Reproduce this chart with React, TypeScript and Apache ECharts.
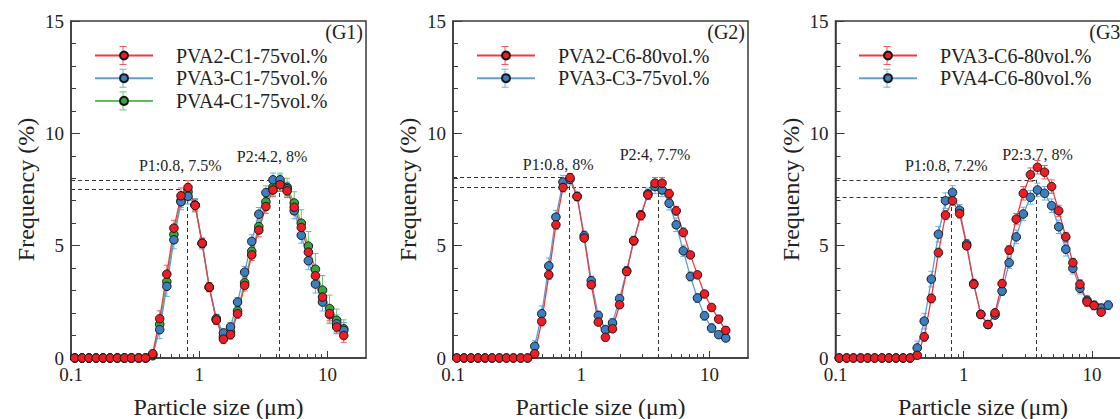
import React, { useEffect, useRef } from 'react';
import * as echarts from 'echarts';

// ---------- data ----------
const sizes = [0.107, 0.122, 0.138, 0.157, 0.178, 0.202, 0.23, 0.261, 0.296, 0.337, 0.382, 0.434, 0.492, 0.559, 0.635, 0.721, 0.818, 0.929, 1.055, 1.198, 1.36, 1.545, 1.754, 1.992, 2.262, 2.569, 2.917, 3.313, 3.762, 4.272, 4.851, 5.509, 6.256, 7.104, 8.067, 9.161, 10.4, 11.81, 13.41];

// Panel G1
const g1Pva2 = [0, 0, 0, 0, 0, 0, 0, 0, 0, 0, 0, 0.19, 1.75, 3.73, 5.78, 7.22, 7.59, 6.79, 5.11, 3.16, 1.69, 0.84, 1.04, 1.97, 3.23, 4.59, 5.69, 6.74, 7.48, 7.71, 7.44, 6.71, 5.81, 4.71, 3.66, 2.71, 1.98, 1.38, 1.0];
const g1Pva3 = [0, 0, 0, 0, 0, 0, 0, 0, 0, 0, 0, 0.15, 1.26, 3.19, 5.26, 6.95, 7.2, 6.8, 5.1, 3.15, 1.75, 1.11, 1.38, 2.49, 3.82, 5.19, 6.4, 7.36, 7.93, 7.93, 7.53, 6.55, 5.46, 4.33, 3.29, 2.49, 1.93, 1.52, 1.23];
const g1Pva4 = [0, 0, 0, 0, 0, 0, 0, 0, 0, 0, 0, 0.1, 1.5, 3.4, 5.5, 7.0, 7.4, 6.8, 5.1, 3.15, 1.7, 0.95, 1.15, 2.1, 3.35, 4.75, 5.85, 6.95, 7.6, 7.8, 7.6, 6.9, 6.0, 4.98, 3.95, 3.02, 2.2, 1.68, 1.3];
const g1Pva2Err = [0, 0, 0, 0, 0, 0, 0, 0, 0, 0, 0, 0.15, 0.35, 0.4, 0.35, 0.35, 0.3, 0.25, 0.2, 0.2, 0.2, 0.2, 0.2, 0.2, 0.25, 0.25, 0.3, 0.3, 0.3, 0.3, 0.3, 0.3, 0.3, 0.3, 0.3, 0.3, 0.3, 0.3, 0.3];
const g1Pva3Err = [0, 0, 0, 0, 0, 0, 0, 0, 0, 0, 0, 0.2, 0.4, 0.45, 0.4, 0.35, 0.35, 0.3, 0.25, 0.2, 0.2, 0.2, 0.2, 0.2, 0.25, 0.3, 0.3, 0.3, 0.3, 0.3, 0.3, 0.35, 0.35, 0.4, 0.4, 0.4, 0.4, 0.4, 0.35];
const g1Pva4Err = [0, 0, 0, 0, 0, 0, 0, 0, 0, 0, 0, 0.15, 0.3, 0.35, 0.35, 0.3, 0.3, 0.25, 0.2, 0.2, 0.2, 0.2, 0.2, 0.2, 0.25, 0.3, 0.3, 0.35, 0.35, 0.35, 0.4, 0.5, 0.6, 0.65, 0.7, 0.65, 0.6, 0.5, 0.4];

// Panel G2
const g2Pva2 = [0, 0, 0, 0, 0, 0, 0, 0, 0, 0, 0, 0.19, 1.63, 3.7, 5.93, 7.59, 8.03, 7.19, 5.34, 3.26, 1.6, 0.92, 1.3, 2.37, 3.85, 5.22, 6.34, 7.26, 7.78, 7.78, 7.31, 6.55, 5.59, 4.59, 3.7, 2.85, 2.25, 1.73, 1.23];
const g2Pva3 = [0, 0, 0, 0, 0, 0, 0, 0, 0, 0, 0, 0.52, 1.97, 4.1, 6.27, 7.83, 7.95, 7.19, 5.45, 3.44, 1.89, 1.26, 1.56, 2.64, 3.88, 5.22, 6.37, 7.31, 7.63, 7.48, 6.89, 5.93, 4.77, 3.63, 2.67, 1.88, 1.33, 1.04, 0.89];
const g2Pva2Err = [0, 0, 0, 0, 0, 0, 0, 0, 0, 0, 0, 0.1, 0.2, 0.2, 0.2, 0.2, 0.15, 0.15, 0.15, 0.15, 0.15, 0.15, 0.15, 0.15, 0.15, 0.15, 0.2, 0.2, 0.25, 0.25, 0.2, 0.2, 0.2, 0.15, 0.15, 0.15, 0.15, 0.15, 0.15];
const g2Pva3Err = [0, 0, 0, 0, 0, 0, 0, 0, 0, 0, 0, 0.25, 0.35, 0.35, 0.3, 0.3, 0.25, 0.2, 0.2, 0.2, 0.2, 0.2, 0.2, 0.2, 0.2, 0.2, 0.2, 0.25, 0.3, 0.3, 0.3, 0.3, 0.25, 0.2, 0.2, 0.2, 0.2, 0.15, 0.15];

// Panel G3
const g3Pva3 = [0, 0, 0, 0, 0, 0, 0, 0, 0, 0, 0, 0.12, 0.94, 2.65, 4.69, 6.36, 7.0, 6.43, 4.99, 3.28, 1.94, 1.49, 2.01, 3.31, 4.8, 6.18, 7.33, 8.16, 8.49, 8.27, 7.63, 6.55, 5.39, 4.24, 3.28, 2.5, 2.34, 2.04, null];
const g3Pva4 = [0, 0, 0, 0, 0, 0, 0, 0, 0, 0, 0, 0.45, 1.64, 3.51, 5.51, 7.0, 7.37, 6.58, 5.07, 3.31, 1.94, 1.49, 1.91, 2.98, 4.24, 5.39, 6.41, 7.15, 7.48, 7.33, 6.78, 5.84, 4.84, 3.99, 3.1, 2.57, 2.34, 2.22, 2.35];
const g3Pva3Err = [0, 0, 0, 0, 0, 0, 0, 0, 0, 0, 0, 0.1, 0.2, 0.2, 0.2, 0.2, 0.2, 0.2, 0.15, 0.15, 0.15, 0.15, 0.15, 0.15, 0.2, 0.25, 0.3, 0.3, 0.3, 0.3, 0.3, 0.25, 0.2, 0.2, 0.2, 0.2, 0.15, 0.15, null];
const g3Pva4Err = [0, 0, 0, 0, 0, 0, 0, 0, 0, 0, 0, 0.3, 0.35, 0.35, 0.35, 0.35, 0.3, 0.25, 0.2, 0.2, 0.15, 0.15, 0.15, 0.2, 0.25, 0.3, 0.3, 0.3, 0.3, 0.3, 0.3, 0.3, 0.3, 0.25, 0.25, 0.2, 0.2, 0.2, 0.2];

// Peak annotations per panel
const panelTags = ['(G1)', '(G2)', '(G3)'];
const peak1X = [0.8, 0.8, 0.8];
const peak1Y = [7.5, 8.05, 7.15];
const peak2X = [4.2, 4.0, 3.7];
const peak2Y = [7.93, 7.6, 7.93];
const peak1Labels = ['P1:0.8, 7.5%', 'P1:0.8, 8%', 'P1:0.8, 7.2%'];
const peak2Labels = ['P2:4.2, 8%', 'P2:4, 7.7%', 'P2:3.7, 8%'];

const xLabelTicks = [0.1, 1, 10];
const xMinorTicks = [0.2, 0.3, 0.4, 0.5, 0.6, 0.7, 0.8, 0.9, 2, 3, 4, 5, 6, 7, 8, 9];
const xTitle = 'Particle size (μm)';
const yTitle = 'Frequency (%)';

// ---------- styles / layout ----------
const FONT = 'Liberation Serif';
const INK = '#222';
const FRAME = '#3a3a3a';
const GRID_LEFTS = [71, 453, 835.5];
const GRID_TOP = 21;
const GRID_W = 295;
const GRID_H = 337;
const LEGEND_LEFTS = [94, 476, 858];
const LEGEND_TOP = 45.5;
const LEGEND_ROW = 22.7;
const LEGEND_ICON_W = 58;
const TAG_RIGHTS = [363, 745, 1127];
const LABEL_OFFSETS = [
  [[-6.5, -24], [-7, -23]],
  [[-10.6, -13], [-3.4, -33]],
  [[-5, -32], [1, -25]],
];

const STYLES: Record<string, { fill: string; line: string; err: string }> = {
  red: { fill: '#ee1d23', line: '#ef3a3f', err: '#f25a5e' },
  blue: { fill: '#3b7fc2', line: '#5b9fd9', err: '#6aaee6' },
  green: { fill: '#3aa63a', line: '#5cbf5c', err: '#6cc86c' },
};

const serif = (size: number) => ({ fontFamily: FONT, fontSize: size, color: INK, fontWeight: 'normal' });

type S = { name: string; vals: (number | null)[]; errs: (number | null)[]; color: string };

// drawing order: bottom first; legend order: top to bottom
const panels: { draw: S[]; legend: string[] }[] = [
  {
    draw: [
      { name: 'PVA4-C1-75vol.%', vals: g1Pva4, errs: g1Pva4Err, color: 'green' },
      { name: 'PVA3-C1-75vol.%', vals: g1Pva3, errs: g1Pva3Err, color: 'blue' },
      { name: 'PVA2-C1-75vol.%', vals: g1Pva2, errs: g1Pva2Err, color: 'red' },
    ],
    legend: ['PVA2-C1-75vol.%', 'PVA3-C1-75vol.%', 'PVA4-C1-75vol.%'],
  },
  {
    draw: [
      { name: 'PVA3-C3-75vol.%', vals: g2Pva3, errs: g2Pva3Err, color: 'blue' },
      { name: 'PVA2-C6-80vol.%', vals: g2Pva2, errs: g2Pva2Err, color: 'red' },
    ],
    legend: ['PVA2-C6-80vol.%', 'PVA3-C3-75vol.%'],
  },
  {
    draw: [
      { name: 'PVA4-C6-80vol.%', vals: g3Pva4, errs: g3Pva4Err, color: 'blue' },
      { name: 'PVA3-C6-80vol.%', vals: g3Pva3, errs: g3Pva3Err, color: 'red' },
    ],
    legend: ['PVA3-C6-80vol.%', 'PVA4-C6-80vol.%'],
  },
];

function buildOption() {
  const grid: any[] = [];
  const xAxis: any[] = [];
  const yAxis: any[] = [];
  const series: any[] = [];
  const legend: any[] = [];
  const graphic: any[] = [];

  panels.forEach((p, pi) => {
    grid.push({
      left: GRID_LEFTS[pi], top: GRID_TOP, width: GRID_W, height: GRID_H,
      containLabel: false, outerBoundsMode: 'none',
      show: true, borderColor: FRAME, borderWidth: 1.5, backgroundColor: 'transparent',
    });
  });

  // main x axes
  panels.forEach((p, pi) => {
    xAxis.push({
      type: 'log', logBase: 10, gridIndex: pi, min: 0.1, max: 20, position: 'bottom',
      name: '{t|' + xTitle + '}', nameLocation: 'middle', nameGap: 37,
      nameTextStyle: { ...serif(24), rich: { t: serif(24) } },
      axisLine: { show: true, lineStyle: { color: FRAME, width: 1.5 } },
      axisTick: { show: true, inside: true, length: 7, customValues: xLabelTicks, lineStyle: { color: FRAME, width: 1 } },
      axisLabel: {
        show: true, customValues: xLabelTicks, margin: 7, ...serif(19),
        formatter: (v: number) => '{s|' + String(v) + '}', rich: { s: serif(19) },
      },
      splitLine: { show: false },
      minorTick: { show: false },
    });
  });
  // minor x axes
  panels.forEach((p, pi) => {
    xAxis.push({
      type: 'log', logBase: 10, gridIndex: pi, min: 0.1, max: 20, position: 'bottom',
      axisLine: { show: false },
      axisTick: { show: true, inside: true, length: 4, customValues: xMinorTicks, lineStyle: { color: FRAME, width: 1 } },
      axisLabel: { show: false },
      splitLine: { show: false },
    });
  });

  panels.forEach((p, pi) => {
    yAxis.push({
      type: 'value', gridIndex: pi, min: 0, max: 15, interval: 5,
      name: '{t|' + yTitle + '}', nameLocation: 'middle', nameGap: 33,
      nameTextStyle: { ...serif(24), rich: { t: serif(24) } },
      axisLine: { show: true, lineStyle: { color: FRAME, width: 1.5 } },
      axisTick: { show: true, inside: true, length: 9, lineStyle: { color: FRAME, width: 1 } },
      minorTick: { show: true, splitNumber: 5, length: 5, lineStyle: { color: FRAME, width: 1 } },
      axisLabel: {
        margin: 7, ...serif(19),
        formatter: (v: number) => '{s|' + String(v) + '}', rich: { s: serif(19) },
      },
      splitLine: { show: false },
    });
  });

  panels.forEach((p, pi) => {
    // peak guide lines + annotations
    const dash = { color: '#333', width: 1, type: [4, 3] };
    series.push({
      type: 'line', name: 'peaks' + pi, xAxisIndex: pi, yAxisIndex: pi, z: 1, silent: true,
      data: [[peak1X[pi], peak1Y[pi]], [peak2X[pi], peak2Y[pi]]],
      showSymbol: false, symbol: 'none', lineStyle: { opacity: 0 },
      markLine: {
        silent: true, symbol: ['none', 'none'], z: 1,
        label: { show: false }, lineStyle: dash, emphasis: { disabled: true },
        data: [
          [{ coord: [0.1, peak1Y[pi]] }, { coord: [peak1X[pi], peak1Y[pi]] }],
          [{ coord: [peak1X[pi], 0] }, { coord: [peak1X[pi], peak1Y[pi]] }],
          [{ coord: [0.1, peak2Y[pi]] }, { coord: [peak2X[pi], peak2Y[pi]] }],
          [{ coord: [peak2X[pi], 0] }, { coord: [peak2X[pi], peak2Y[pi]] }],
        ],
      },
      markPoint: {
        silent: true, symbol: 'circle', symbolSize: 1, itemStyle: { color: 'transparent' },
        data: [
          { name: peak1Labels[pi], coord: [peak1X[pi], peak1Y[pi]], label: { offset: LABEL_OFFSETS[pi][0] } },
          { name: peak2Labels[pi], coord: [peak2X[pi], peak2Y[pi]], label: { offset: LABEL_OFFSETS[pi][1] } },
        ],
        label: { show: true, position: 'inside', formatter: '{a|{b}}', ...serif(16), rich: { a: serif(16) } },
      },
    });

    p.draw.forEach((s) => {
      const st = STYLES[s.color];
      const errData: any[] = [];
      const lineData: any[] = [];
      s.vals.forEach((v, i) => {
        if (v == null) return;
        lineData.push([sizes[i], v]);
        errData.push([sizes[i], v, s.errs[i] ?? 0]);
      });
      series.push({
        type: 'custom', name: s.name + ' error', xAxisIndex: pi, yAxisIndex: pi, silent: true, z: 2,
        encode: { x: 0, y: 1 },
        data: errData,
        renderItem: (params: any, api: any) => {
          const x = api.value(0), y = api.value(1), e = api.value(2);
          if (!e) return null;
          const t = api.coord([x, y + e]);
          const b = api.coord([x, Math.max(0, y - e)]);
          const hw = 3;
          const style = { stroke: st.err, lineWidth: 1 };
          return {
            type: 'group',
            children: [
              { type: 'line', shape: { x1: t[0], y1: t[1], x2: b[0], y2: b[1] }, style },
              { type: 'line', shape: { x1: t[0] - hw, y1: t[1], x2: t[0] + hw, y2: t[1] }, style },
              { type: 'line', shape: { x1: b[0] - hw, y1: b[1], x2: b[0] + hw, y2: b[1] }, style },
            ],
          };
        },
      });
      series.push({
        type: 'line', name: s.name, xAxisIndex: pi, yAxisIndex: pi, z: 2,
        data: lineData,
        symbol: 'circle', symbolSize: 8.5, showSymbol: true,
        lineStyle: { color: st.line, width: 1.3 },
        itemStyle: { color: st.fill, borderColor: '#151515', borderWidth: 1 },
        emphasis: { disabled: true },
      });
    });

    legend.push({
      orient: 'vertical', left: LEGEND_LEFTS[pi], top: LEGEND_TOP, padding: 0,
      data: p.legend, itemWidth: LEGEND_ICON_W, itemHeight: 10, itemGap: 2.7,
      selectedMode: false,
      textStyle: { ...serif(20), lineHeight: 20, padding: [0, 0, 0, 18] },
    });

    p.legend.forEach((nm, li) => {
      const s = p.draw.find((d) => d.name === nm)!;
      const st = STYLES[s.color];
      const cx = LEGEND_LEFTS[pi] + LEGEND_ICON_W / 2;
      const cy = LEGEND_TOP + 10 + li * LEGEND_ROW;
      const style = { stroke: st.err, lineWidth: 1 };
      graphic.push(
        { type: 'line', z: 3, silent: true, shape: { x1: cx, y1: cy - 9, x2: cx, y2: cy + 9 }, style },
        { type: 'line', z: 3, silent: true, shape: { x1: cx - 3.5, y1: cy - 9, x2: cx + 3.5, y2: cy - 9 }, style },
        { type: 'line', z: 3, silent: true, shape: { x1: cx - 3.5, y1: cy + 9, x2: cx + 3.5, y2: cy + 9 }, style },
      );
    });

    graphic.push({
      type: 'text', z: 5, silent: true, x: TAG_RIGHTS[pi], y: 32,
      style: { text: panelTags[pi], fontFamily: FONT, fontSize: 20, fill: INK, align: 'right', verticalAlign: 'middle' },
    });
  });

  return {
    animation: false,
    backgroundColor: '#fff',
    textStyle: { fontFamily: FONT },
    grid, xAxis, yAxis, series, legend, graphic,
  };
}

export default function App() {
  const ref = useRef<HTMLDivElement>(null);
  useEffect(() => {
    const chart = echarts.init(ref.current!, null, { renderer: 'svg' });
    chart.setOption(buildOption() as any);
    return () => chart.dispose();
  }, []);
  return (
    <div style={{ position: 'fixed', left: 0, top: 0, width: 1120, height: 419, overflow: 'hidden', background: '#fff' }}>
      <div ref={ref} style={{ width: 1140, height: 419 }} />
    </div>
  );
}
